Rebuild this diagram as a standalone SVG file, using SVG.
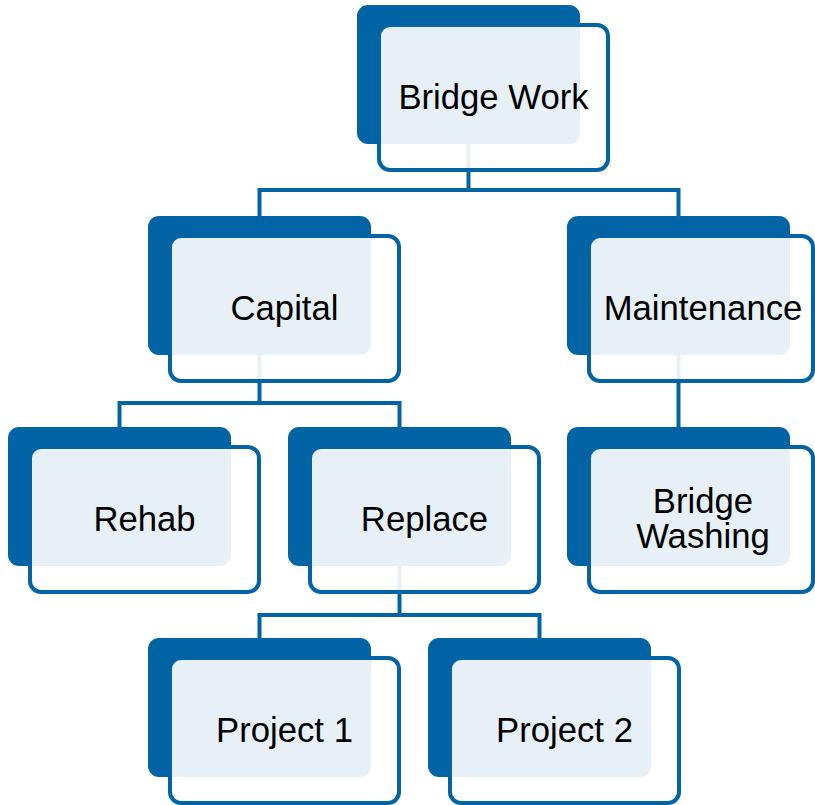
<svg xmlns="http://www.w3.org/2000/svg" width="815" height="805" viewBox="0 0 815 805">
  <style>
    .back { fill: #0364A5; }
    .front { fill: #ffffff; fill-opacity: 0.9; stroke: #0364A5; stroke-width: 4; }
    .label { font-family: "Liberation Sans", Arial, sans-serif; font-size: 34.7px; fill: #000000; text-anchor: middle; }
    .link { fill: none; stroke: #0364A5; stroke-width: 4; stroke-linejoin: miter; }
  </style>
  <rect width="815" height="805" fill="#ffffff"/>

  <!-- connectors run beneath the nodes -->
  <g id="connectors">
    <path class="link" d="M468.5 143 V190"/>
    <path class="link" d="M259.5 216 V190 H678.5 V216"/>
    <path class="link" d="M259.5 354 V403"/>
    <path class="link" d="M119.5 427 V403 H399.5 V427"/>
    <path class="link" d="M678.5 354 V427"/>
    <path class="link" d="M399.5 565 V615"/>
    <path class="link" d="M259.5 638 V615 H539.5 V638"/>
  </g>

  <g id="bridge-work" transform="translate(357,5)">
    <rect class="back" x="0" y="0" width="223" height="139" rx="11"/>
    <rect class="front" x="22" y="20" width="229" height="145" rx="11"/>
    <text class="label" x="136.5" y="104">Bridge Work</text>
  </g>

  <g id="capital" transform="translate(148,216)">
    <rect class="back" x="0" y="0" width="223" height="139" rx="11"/>
    <rect class="front" x="22" y="20" width="229" height="145" rx="11"/>
    <text class="label" x="136.5" y="104">Capital</text>
  </g>

  <g id="maintenance" transform="translate(567,216)">
    <rect class="back" x="0" y="0" width="223" height="139" rx="11"/>
    <rect class="front" x="22" y="20" width="224" height="145" rx="11"/>
    <text class="label" x="136" y="104">Maintenance</text>
  </g>

  <g id="rehab" transform="translate(8,427)">
    <rect class="back" x="0" y="0" width="223" height="139" rx="11"/>
    <rect class="front" x="22" y="20" width="229" height="145" rx="11"/>
    <text class="label" x="136.5" y="104">Rehab</text>
  </g>

  <g id="replace" transform="translate(288,427)">
    <rect class="back" x="0" y="0" width="223" height="139" rx="11"/>
    <rect class="front" x="22" y="20" width="229" height="145" rx="11"/>
    <text class="label" x="136.5" y="104">Replace</text>
  </g>

  <g id="bridge-washing" transform="translate(567,427)">
    <rect class="back" x="0" y="0" width="223" height="139" rx="11"/>
    <rect class="front" x="22" y="20" width="224" height="145" rx="11"/>
    <text class="label" x="136" y="86">Bridge</text>
    <text class="label" x="136" y="121">Washing</text>
  </g>

  <g id="project-1" transform="translate(148,638)">
    <rect class="back" x="0" y="0" width="223" height="139" rx="11"/>
    <rect class="front" x="22" y="20" width="229" height="145" rx="11"/>
    <text class="label" x="136.5" y="104">Project 1</text>
  </g>

  <g id="project-2" transform="translate(428,638)">
    <rect class="back" x="0" y="0" width="223" height="139" rx="11"/>
    <rect class="front" x="22" y="20" width="229" height="145" rx="11"/>
    <text class="label" x="136.5" y="104">Project 2</text>
  </g>
</svg>
